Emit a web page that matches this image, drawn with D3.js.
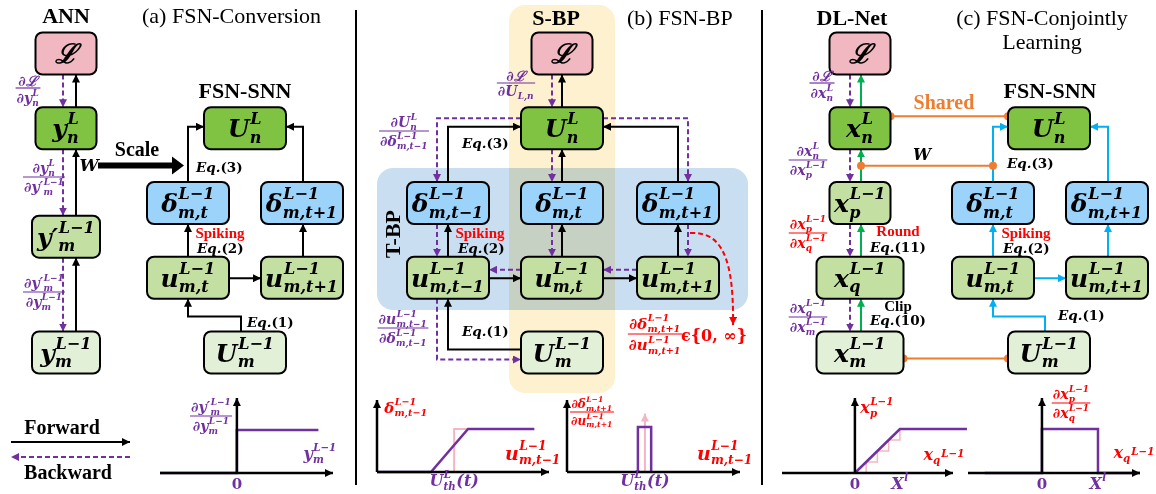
<!DOCTYPE html>
<html>
<head>
<meta charset="utf-8">
<script src="https://cdn.jsdelivr.net/npm/d3@7"></script>
<style>
body { margin: 0; background: #fff; }
svg text { font-family: "DejaVu Serif", serif; }
.math text { font-weight: bold; font-style: italic; }
.math text.up { font-style: normal; }
.head { font-family: "Liberation Serif", serif !important; font-weight: bold; font-size: 22px; }
.cap { font-family: "Liberation Serif", serif !important; font-size: 22px; }
.note { font-family: "Liberation Serif", serif !important; font-weight: bold; font-size: 15px; }
.eq { font-weight: bold; font-size: 13.5px; }
</style>
</head>
<body>
<svg id="fig" width="1156" height="494"></svg>
<script>
const svg = d3.select('#fig');

// ---- data ----
// nodes: column key, row index, colour kind, width class, label (base, sup, sub)
const nodesA = [
  {id: 'aL',   col: 'ann', row: 0,    kind: 'loss',  size: 's', tex: [['ℒ']]},
  {id: 'ayn',  col: 'ann', row: 1,    kind: 'dark',  size: 's', tex: [['y', 'L', 'n']]},
  {id: 'ayp',  col: 'ann', row: 2.45, kind: 'mid',   size: 'm', tex: [['y′', 'L−1', 'm']]},
  {id: 'aym',  col: 'ann', row: 4,    kind: 'light', size: 'm', tex: [['y', 'L−1', 'm']]},
  {id: 'aUn',  col: 'sm',  row: 1,    kind: 'dark',  size: 'l', tex: [['U', 'L', 'n']]},
  {id: 'adt',  col: 's0',  row: 2,    kind: 'blue',  size: 'l', tex: [['δ', 'L−1', 'm,t']]},
  {id: 'adt1', col: 's1',  row: 2,    kind: 'blue',  size: 'l', tex: [['δ', 'L−1', 'm,t+1']]},
  {id: 'aut',  col: 's0',  row: 3,    kind: 'mid',   size: 'l', tex: [['u', 'L−1', 'm,t']]},
  {id: 'aut1', col: 's1',  row: 3,    kind: 'mid',   size: 'l', tex: [['u', 'L−1', 'm,t+1']]},
  {id: 'aUm',  col: 'sm',  row: 4,    kind: 'light', size: 'l', tex: [['U', 'L−1', 'm']]}
];
const nodesB = [
  {id: 'bL',  col: 'b1', row: 0, kind: 'loss',  size: 's', tex: [['ℒ']]},
  {id: 'bUn', col: 'b1', row: 1, kind: 'dark',  size: 'l', tex: [['U', 'L', 'n']]},
  {id: 'bd0', col: 'b0', row: 2, kind: 'blue',  size: 'l', tex: [['δ', 'L−1', 'm,t−1']]},
  {id: 'bd1', col: 'b1', row: 2, kind: 'blue',  size: 'l', tex: [['δ', 'L−1', 'm,t']]},
  {id: 'bd2', col: 'b2', row: 2, kind: 'blue',  size: 'l', tex: [['δ', 'L−1', 'm,t+1']]},
  {id: 'bu0', col: 'b0', row: 3, kind: 'mid',   size: 'l', tex: [['u', 'L−1', 'm,t−1']]},
  {id: 'bu1', col: 'b1', row: 3, kind: 'mid',   size: 'l', tex: [['u', 'L−1', 'm,t']]},
  {id: 'bu2', col: 'b2', row: 3, kind: 'mid',   size: 'l', tex: [['u', 'L−1', 'm,t+1']]},
  {id: 'bUm', col: 'b1', row: 4, kind: 'light', size: 'l', tex: [['U', 'L−1', 'm']]}
];
const nodesC = [
  {id: 'cL',  col: 'dl', row: 0, kind: 'loss',  size: 's',  tex: [['ℒ']]},
  {id: 'cxn', col: 'dl', row: 1, kind: 'dark',  size: 's',  tex: [['x', 'L', 'n']]},
  {id: 'cxp', col: 'dl', row: 2, kind: 'mid',   size: 's',  tex: [['x', 'L−1', 'p']]},
  {id: 'cxq', col: 'dl', row: 3, kind: 'mid',   size: 'xl', tex: [['x', 'L−1', 'q']]},
  {id: 'cxm', col: 'dl', row: 4, kind: 'light', size: 'xl', tex: [['x', 'L−1', 'm']]},
  {id: 'cUn', col: 'cm', row: 1, kind: 'dark',  size: 'l',  tex: [['U', 'L', 'n']]},
  {id: 'cd0', col: 'c0', row: 2, kind: 'blue',  size: 'l',  tex: [['δ', 'L−1', 'm,t']]},
  {id: 'cd1', col: 'c1', row: 2, kind: 'blue',  size: 'l',  tex: [['δ', 'L−1', 'm,t+1']]},
  {id: 'cu0', col: 'c0', row: 3, kind: 'mid',   size: 'l',  tex: [['u', 'L−1', 'm,t']]},
  {id: 'cu1', col: 'c1', row: 3, kind: 'mid',   size: 'l',  tex: [['u', 'L−1', 'm,t+1']]},
  {id: 'cUm', col: 'cm', row: 4, kind: 'light', size: 'l',  tex: [['U', 'L−1', 'm']]}
];

// edges: kind = fwd (black), bwd (purple dashed), green, blue
const edgesA = [
  {from: 'ayn', to: 'aL', kind: 'fwd', route: 'v'},  {from: 'aL', to: 'ayn', kind: 'bwd', route: 'v'},
  {from: 'ayp', to: 'ayn', kind: 'fwd', route: 'v'}, {from: 'ayn', to: 'ayp', kind: 'bwd', route: 'v'},
  {from: 'aym', to: 'ayp', kind: 'fwd', route: 'v'}, {from: 'ayp', to: 'aym', kind: 'bwd', route: 'v'},
  {from: 'adt', to: 'aUn', kind: 'fwd', route: 'upSide'},
  {from: 'adt1', to: 'aUn', kind: 'fwd', route: 'upSide'},
  {from: 'aut', to: 'adt', kind: 'fwd', route: 'v'},
  {from: 'aut1', to: 'adt1', kind: 'fwd', route: 'v'},
  {from: 'aut', to: 'aut1', kind: 'fwd', route: 'h'},
  {from: 'aUm', to: 'aut', kind: 'fwd', route: 'upOver'}
];
const edgesB = [
  {from: 'bUn', to: 'bL', kind: 'fwd', route: 'v'},  {from: 'bL', to: 'bUn', kind: 'bwd', route: 'v'},
  {from: 'bd1', to: 'bUn', kind: 'fwd', route: 'v'}, {from: 'bUn', to: 'bd1', kind: 'bwd', route: 'v'},
  {from: 'bd0', to: 'bUn', kind: 'fwd', route: 'upSide'}, {from: 'bUn', to: 'bd0', kind: 'bwd', route: 'sideDown'},
  {from: 'bd2', to: 'bUn', kind: 'fwd', route: 'upSide'}, {from: 'bUn', to: 'bd2', kind: 'bwd', route: 'sideDown'},
  {from: 'bu0', to: 'bd0', kind: 'fwd', route: 'v'}, {from: 'bd0', to: 'bu0', kind: 'bwd', route: 'v'},
  {from: 'bu1', to: 'bd1', kind: 'fwd', route: 'v'}, {from: 'bd1', to: 'bu1', kind: 'bwd', route: 'v'},
  {from: 'bu2', to: 'bd2', kind: 'fwd', route: 'v'}, {from: 'bd2', to: 'bu2', kind: 'bwd', route: 'v'},
  {from: 'bu0', to: 'bu1', kind: 'fwd', route: 'h'}, {from: 'bu1', to: 'bu0', kind: 'bwd', route: 'h'},
  {from: 'bu1', to: 'bu2', kind: 'fwd', route: 'h'}, {from: 'bu2', to: 'bu1', kind: 'bwd', route: 'h'},
  {from: 'bUm', to: 'bu0', kind: 'fwd', route: 'sideUp'}, {from: 'bu0', to: 'bUm', kind: 'bwd', route: 'downSide'}
];
const edgesC = [
  {from: 'cxn', to: 'cL', kind: 'green', route: 'v'},  {from: 'cL', to: 'cxn', kind: 'bwd', route: 'v'},
  {from: 'cxp', to: 'cxn', kind: 'green', route: 'v'}, {from: 'cxn', to: 'cxp', kind: 'bwd', route: 'v'},
  {from: 'cxq', to: 'cxp', kind: 'green', route: 'v'}, {from: 'cxp', to: 'cxq', kind: 'bwd', route: 'v'},
  {from: 'cxm', to: 'cxq', kind: 'green', route: 'v'}, {from: 'cxq', to: 'cxm', kind: 'bwd', route: 'v'},
  {from: 'cd0', to: 'cUn', kind: 'blue', route: 'upSide'},
  {from: 'cd1', to: 'cUn', kind: 'blue', route: 'upSide'},
  {from: 'cu0', to: 'cd0', kind: 'blue', route: 'v'},
  {from: 'cu1', to: 'cd1', kind: 'blue', route: 'v'},
  {from: 'cu0', to: 'cu1', kind: 'blue', route: 'h'},
  {from: 'cUm', to: 'cu0', kind: 'blue', route: 'upOver'}
];

// headings and notes
const headings = [
  {t: 'ANN', x: 66, y: 23, cls: 'head', anchor: 'middle'},
  {t: '(a) FSN-Conversion', x: 142, y: 23, cls: 'cap', anchor: 'start'},
  {t: 'FSN-SNN', x: 245, y: 98, cls: 'head', anchor: 'middle'},
  {t: 'S-BP', x: 556, y: 25, cls: 'head', anchor: 'middle'},
  {t: '(b) FSN-BP', x: 627, y: 25, cls: 'cap', anchor: 'start'},
  {t: 'DL-Net', x: 852, y: 25, cls: 'head', anchor: 'middle'},
  {t: '(c) FSN-Conjointly', x: 1042, y: 25, cls: 'cap', anchor: 'middle'},
  {t: 'Learning', x: 1042, y: 49, cls: 'cap', anchor: 'middle'},
  {t: 'FSN-SNN', x: 1050, y: 98, cls: 'head', anchor: 'middle'}
];
const notes = [
  {t: 'Scale', x: 137, y: 156, size: 20, color: '#000'},
  {t: 'Spiking', x: 220, y: 238, size: 15, color: '#ff0000'},
  {t: 'Forward', x: 62, y: 434, size: 20, color: '#000'},
  {t: 'Backward', x: 68, y: 479, size: 20, color: '#000'},
  {t: 'Spiking', x: 480, y: 238, size: 15, color: '#ff0000'},
  {t: 'Shared', x: 944, y: 109, size: 20, color: '#ed7d31'},
  {t: 'Round', x: 898, y: 236, size: 15, color: '#ff0000'},
  {t: 'Clip', x: 898, y: 311, size: 15, color: '#000'},
  {t: 'Spiking', x: 1026, y: 238, size: 15, color: '#ff0000'}
];
const eqs = [
  {n: '3', x: 196, y: 172}, {n: '2', x: 197, y: 253}, {n: '1', x: 247, y: 327},
  {n: '3', x: 462, y: 148}, {n: '2', x: 458, y: 253}, {n: '1', x: 462, y: 336},
  {n: '3', x: 1007, y: 168}, {n: '11', x: 870, y: 252}, {n: '10', x: 870, y: 325},
  {n: '2', x: 1003, y: 253}, {n: '1', x: 1058, y: 320}
];
const fracs = [
  {num: [['∂ℒ']], den: [['∂y', 'L', 'n']], c: 'bwd', x: 28, y: 88},
  {num: [['∂y', 'L', 'n']], den: [['∂y′', 'L−1', 'm']], c: 'bwd', x: 44, y: 177},
  {num: [['∂y′', 'L−1', 'm']], den: [['∂y', 'L−1', 'm']], c: 'bwd', x: 44, y: 292},
  {num: [['∂y′', 'L−1', 'm']], den: [['∂y', 'L−1', 'm']], c: 'bwd', x: 211, y: 416},
  {num: [['∂ℒ']], den: [['∂U', null, 'L,n']], c: 'bwd', x: 516, y: 83},
  {num: [['∂U', 'L', 'n']], den: [['∂δ', 'L−1', 'm,t−1']], c: 'bwd', x: 404, y: 131},
  {num: [['∂u', 'L−1', 'm,t−1']], den: [['∂δ', 'L−1', 'm,t−1']], c: 'bwd', x: 403, y: 328},
  {num: [['∂δ', 'L−1', 'm,t+1']], den: [['∂u', 'L−1', 'm,t+1']], c: 'red', x: 655, y: 334, size: 15},
  {num: [['∂δ', 'L−1', 'm,t+1']], den: [['∂u', 'L−1', 'm,t+1']], c: 'red', x: 592, y: 412, size: 12},
  {num: [['∂ℒ']], den: [['∂x', 'L', 'n']], c: 'bwd', x: 822, y: 83},
  {num: [['∂x', 'L', 'n']], den: [['∂x', 'L−1', 'p']], c: 'bwd', x: 808, y: 160},
  {num: [['∂x', 'L−1', 'p']], den: [['∂x', 'L−1', 'q']], c: 'red', x: 808, y: 233},
  {num: [['∂x', 'L−1', 'q']], den: [['∂x', 'L−1', 'm']], c: 'bwd', x: 808, y: 317},
  {num: [['∂x', 'L−1', 'p']], den: [['∂x', 'L−1', 'q']], c: 'red', x: 1071, y: 403}
];

// curves for the small plots (x, y) in plot units
const reluGrad = [[-1, 0], [0, 0], [0, 1], [1.06, 1]];
const spikeFn = [[0, 0], [0.7, 0], [1.18, 1], [2.04, 1]];
const spikeStep = [[0.7, 0], [1, 0], [1, 1], [1.18, 1]];
const spikeGrad = [[0.91, 0], [0.91, 1], [1.08, 1], [1.08, 0]];
const spikeDirac = [[1, 0], [1, 1.3]];
const quantFn = [[0, 0], [1, 1], [2.49, 1]];
const quantStep = [[0, 0], [0.25, 0], [0.25, 0.25], [0.5, 0.25], [0.5, 0.5], [0.75, 0.5], [0.75, 0.75], [1, 0.75], [1, 1]];
const quantGrad = [[-1.02, 0], [0, 0], [0, 1], [1, 1], [1, 0], [1.75, 0]];

// ---- layout ----
const COLORS = {fwd: '#000', bwd: '#7030a0', green: '#00b050', blue: '#00b0f0', red: '#ff0000', pink: '#f4b6c2', orange: '#ed7d31'};
const FILLS = {loss: '#f2b8c1', dark: '#80c342', mid: '#c3dfa2', light: '#e2f0d8', blue: '#9bd3fb'};
const WIDTHS = {s: 61, m: 68, l: 82, xl: 87};
const BOX_H = 42;
const colX = d3.scaleOrdinal()
  .domain(['ann', 's0', 's1', 'sm', 'b0', 'b1', 'b2', 'dl', 'c0', 'c1', 'cm'])
  .range([66, 188, 302, 245, 448, 562, 678, 860, 993, 1107, 1049]);
const rowY = d3.scaleLinear().domain([0, 4]).range([53.5, 352.5]);
// lane offsets [solid, dashed] for vertical connectors per column
const LANE = {ann: [10, -3], s0: [0, 0], s1: [1, 0], sm: [0, 0], b0: [0, -11], b1: [0, -10], b2: [0, 10],
  dl: [1, -10], c0: [0, 0], c1: [1, 0], cm: [0, 0]};

const nodes = [...nodesA, ...nodesB, ...nodesC].map(d => {
  const w = WIDTHS[d.size];
  const x = colX(d.col), y = rowY(d.row);
  return {...d, x, y, w, left: x - w / 2, right: x + w / 2, top: y - BOX_H / 2, bottom: y + BOX_H / 2};
});
const byId = new Map(nodes.map(d => [d.id, d]));

// ---- math text helper ----
const upright = s => /^[0-9()]+$/.test(s);
function mathGroup(parent, tokens, size, color) {
  const g = parent.append('g').attr('class', 'math').attr('fill', color);
  let x = 0;
  tokens.forEach(([base, sup, sub, supDy]) => {
    if (base) {
      const t = g.append('text').attr('x', x).attr('y', 0).classed('up', upright(base))
        .style('font-size', size + 'px').text(base);
      x += t.node().getComputedTextLength();
    }
    const s = size * 0.64;
    let w = 0;
    if (sup) {
      const t = g.append('text').attr('x', x + size * 0.03).attr('y', supDy != null ? supDy : -size * 0.52)
        .style('font-size', s + 'px').text(sup);
      w = Math.max(w, t.node().getComputedTextLength());
    }
    if (sub) {
      const t = g.append('text').attr('x', x + size * 0.01).attr('y', size * 0.22)
        .style('font-size', s + 'px').text(sub);
      w = Math.max(w, t.node().getComputedTextLength());
    }
    if (w) x += w + size * 0.05;
  });
  g.property('__w', x);
  return g;
}
function placeMath(parent, tokens, size, color, cx, baseline) {
  const g = mathGroup(parent, tokens, size, color);
  g.attr('transform', `translate(${cx - g.property('__w') / 2},${baseline})`);
  return g;
}
function fraction(parent, f) {
  const size = f.size || 14;
  const color = COLORS[f.c];
  const g = parent.append('g');
  const n = mathGroup(g, f.num, size, color);
  const d = mathGroup(g, f.den, size, color);
  const nb = n.node().getBBox(), db = d.node().getBBox();
  n.attr('transform', `translate(${f.x - n.property('__w') / 2},${f.y + 1 - (nb.y + nb.height)})`);
  d.attr('transform', `translate(${f.x - d.property('__w') / 2},${f.y - 0.5 - db.y})`);
  const w = Math.max(n.property('__w'), d.property('__w')) + 2;
  g.append('line').attr('x1', f.x - w / 2).attr('x2', f.x + w / 2).attr('y1', f.y).attr('y2', f.y)
    .attr('stroke', color).attr('stroke-width', 1.2);
}

// ---- markers ----
const defs = svg.append('defs');
Object.entries(COLORS).forEach(([k, c]) => {
  defs.append('marker').attr('id', 'm-' + k).attr('viewBox', '0 0 10 10')
    .attr('refX', 10).attr('refY', 5).attr('markerWidth', 8).attr('markerHeight', 8)
    .attr('markerUnits', 'userSpaceOnUse').attr('orient', 'auto')
    .append('path').attr('d', 'M0,0L10,5L0,10z').attr('fill', c);
});

// ---- backgrounds ----
svg.append('rect').attr('x', 509).attr('y', 5).attr('width', 106).attr('height', 388).attr('rx', 16)
  .attr('fill', '#fdf1cf');
svg.append('rect').attr('x', 377).attr('y', 168).attr('width', 371).attr('height', 142).attr('rx', 16)
  .attr('fill', '#c9def0').style('mix-blend-mode', 'multiply');
svg.append('text').attr('class', 'head').attr('text-anchor', 'middle')
  .attr('transform', 'translate(400,234) rotate(-90)').text('T-BP');

// panel separators
[356, 762].forEach(x => svg.append('line').attr('x1', x).attr('x2', x).attr('y1', 10).attr('y2', 485)
  .attr('stroke', '#000').attr('stroke-width', 2));

// ---- edges ----
function edgePoints(e) {
  const a = byId.get(e.from), b = byId.get(e.to);
  const li = e.kind === 'bwd' ? 1 : 0;
  switch (e.route) {
    case 'v': {
      const x = a.x + LANE[a.col][li];
      return a.row > b.row ? [[x, a.top], [x, b.bottom]] : [[x, a.bottom], [x, b.top]];
    }
    case 'upSide': {
      const x = a.x + LANE[a.col][li], y = b.y - 1.5;
      return [[x, a.top], [x, y], [a.x < b.x ? b.left : b.right, y]];
    }
    case 'sideDown': {
      const x = b.x + LANE[b.col][li], y = a.y - 10;
      return [[b.x < a.x ? a.left : a.right, y], [x, y], [x, b.top]];
    }
    case 'h': {
      const y = e.kind === 'bwd' ? a.y - 8 : a.y + 0.5;
      return a.x < b.x ? [[a.right, y], [b.left, y]] : [[a.left, y], [b.right, y]];
    }
    case 'sideUp': {
      const x = b.x + LANE[b.col][li], y = a.y - 3;
      return [[b.x < a.x ? a.left : a.right, y], [x, y], [x, b.bottom]];
    }
    case 'downSide': {
      const x = a.x + LANE[a.col][li], y = b.y + 7;
      return [[x, a.bottom], [x, y], [a.x < b.x ? b.left : b.right, y]];
    }
    case 'upOver': {
      const x0 = a.x - 4, y = a.top - 15, x1 = b.x + LANE[b.col][li];
      return [[x0, a.top], [x0, y], [x1, y], [x1, b.bottom]];
    }
  }
}
const line = d3.line();
const gEdges = svg.append('g').attr('fill', 'none');
gEdges.selectAll('path').data([...edgesA, ...edgesB, ...edgesC]).join('path')
  .attr('d', d => line(edgePoints(d)))
  .attr('stroke', d => COLORS[d.kind])
  .attr('stroke-width', 2)
  .attr('stroke-dasharray', d => d.kind === 'bwd' ? '5,3' : null)
  .attr('marker-end', d => `url(#m-${d.kind})`);

// red dashed feedback curve on delta_{m,t+1}
const d2 = byId.get('bd2');
gEdges.append('path')
  .attr('d', `M${d2.x + LANE.b2[1] + 2},${d2.bottom + 9} C${d2.x + 44},${d2.bottom + 7} ${d2.x + 56},${d2.bottom + 35} ${d2.x + 55},${d2.bottom + 101}`)
  .attr('stroke', COLORS.red).attr('stroke-width', 2).attr('stroke-dasharray', '5,3')
  .attr('marker-end', 'url(#m-red)');

// Scale arrow
svg.append('path').attr('d', 'M98,162.5H172V156.5L184,165.5L172,174.5V168.5H98Z').attr('fill', '#000');

// shared-weight links (orange)
const xn = byId.get('cxn'), un = byId.get('cUn'), xm = byId.get('cxm'), um = byId.get('cUm');
const orange = [
  [[xn.right, xn.y - 12], [un.left, xn.y - 12]],
  [[xn.x + LANE.dl[0], rowY(1.5)], [byId.get('cd0').x, rowY(1.5)]],
  [[xm.right, xm.y + 6], [um.left, xm.y + 6]]
];
const gO = svg.append('g');
orange.forEach(pts => {
  gO.append('path').attr('d', line(pts)).attr('stroke', COLORS.orange).attr('stroke-width', 2).attr('fill', 'none');
  pts.forEach(p => gO.append('circle').attr('cx', p[0]).attr('cy', p[1]).attr('r', 4).attr('fill', COLORS.orange));
});
placeMath(svg, [['W']], 16, '#000', 922, 160);
placeMath(svg, [['W']], 17, '#000', 89, 171);

// ---- nodes ----
const gN = svg.append('g');
const nodeG = gN.selectAll('g').data(nodes).join('g');
nodeG.append('rect')
  .attr('x', d => d.left).attr('y', d => d.top).attr('width', d => d.w).attr('height', BOX_H)
  .attr('rx', 7).attr('fill', d => FILLS[d.kind]).attr('stroke', '#000').attr('stroke-width', 2);
nodeG.each(function (d) {
  placeMath(d3.select(this), d.tex, d.kind === 'loss' ? 27 : 25, '#000', d.x, d.y + 9);
});

// ---- text ----
svg.selectAll('text.hd').data(headings).join('text')
  .attr('class', d => 'hd ' + d.cls).attr('x', d => d.x).attr('y', d => d.y)
  .attr('text-anchor', d => d.anchor).text(d => d.t);
svg.selectAll('text.nt').data(notes).join('text')
  .attr('class', 'nt note').attr('x', d => d.x).attr('y', d => d.y).attr('text-anchor', 'middle')
  .style('font-size', d => d.size + 'px').attr('fill', d => d.color).text(d => d.t);
const eqT = svg.selectAll('text.eq').data(eqs).join('text')
  .attr('class', 'eq').attr('x', d => d.x).attr('y', d => d.y);
eqT.append('tspan').style('font-style', 'italic').text('Eq.');
eqT.append('tspan').text(d => `(${d.n})`);
fracs.forEach(f => fraction(svg, f));
// epsilon set next to the red fraction
svg.append('text').attr('x', 681).attr('y', 341).attr('fill', COLORS.red).style('font-weight', 'bold')
  .style('font-size', '16px').text('ϵ{0, ∞}');

// legend arrows
svg.append('path').attr('d', line([[11, 442], [130, 442]])).attr('stroke', '#000').attr('stroke-width', 2)
  .attr('marker-end', 'url(#m-fwd)');
svg.append('path').attr('d', line([[130, 457], [11, 457]])).attr('stroke', COLORS.bwd).attr('stroke-width', 2)
  .attr('stroke-dasharray', '5,3').attr('marker-end', 'url(#m-bwd)');

// ---- small plots ----
function plot(cfg) {
  const x = d3.scaleLinear().domain(cfg.xd).range(cfg.xr);
  const y = d3.scaleLinear().domain([0, 1]).range(cfg.yr);
  const g = svg.append('g');
  const pl = d3.line().x(d => x(d[0])).y(d => y(d[1]));
  (cfg.curves || []).forEach(c => {
    g.append('path').attr('d', pl(c.data)).attr('fill', 'none').attr('stroke', COLORS[c.color])
      .attr('stroke-width', c.width || 2.5).attr('marker-end', c.arrow ? `url(#m-${c.color})` : null);
  });
  g.append('path').attr('d', line([[x(cfg.axisStart), y(0)], [x(cfg.xd[1]), y(0)]]))
    .attr('stroke', '#000').attr('stroke-width', 2.5).attr('marker-end', 'url(#m-fwd)');
  g.append('path').attr('d', line([[x(0), y(0)], [x(0), cfg.top]]))
    .attr('stroke', '#000').attr('stroke-width', 2.5).attr('marker-end', 'url(#m-fwd)');
  (cfg.ticks || []).forEach(t => placeMath(g, t.tex, t.size || 15, COLORS.bwd, x(t.v), t.base || 489));
  return g;
}
plot({xd: [-1, 1.25], xr: [160, 333], yr: [473, 430], top: 398, axisStart: -1,
  curves: [{data: reluGrad, color: 'bwd'}], ticks: [{v: 0, tex: [['0']]}]});
plot({xd: [0, 2.23], xr: [377, 549], yr: [472, 429], top: 400, axisStart: 0,
  curves: [{data: spikeStep, color: 'pink', width: 2}, {data: spikeFn, color: 'bwd'}],
  ticks: [{v: 1, tex: [['U', 'L', 'th'], ['(t)']], size: 16, base: 486}]});
plot({xd: [0, 2.22], xr: [567, 740], yr: [472, 427], top: 400, axisStart: 0,
  curves: [{data: spikeDirac, color: 'pink', width: 2, arrow: true}, {data: spikeGrad, color: 'bwd'}],
  ticks: [{v: 1, tex: [['U', 'L', 'th'], ['(t)']], size: 16, base: 486}]});
plot({xd: [-1.62, 2.18], xr: [782, 953], yr: [473, 429], top: 398, axisStart: -1.62,
  curves: [{data: quantStep, color: 'pink', width: 1.5}, {data: quantFn, color: 'bwd'}],
  ticks: [{v: 0, tex: [['0']]}, {v: 1, tex: [['X', 'l']], size: 16}]});
plot({xd: [-1.32, 1.75], xr: [968, 1140], yr: [473, 429], top: 398, axisStart: -1.32,
  curves: [{data: quantGrad, color: 'bwd'}],
  ticks: [{v: 0, tex: [['0']]}, {v: 1, tex: [['X', 'l']], size: 16}]});

// plot axis labels
placeMath(svg, [['y', 'L−1', 'm']], 16, COLORS.bwd, 320, 459);
placeMath(svg, [['δ', 'L−1', 'm,t−1']], 15, COLORS.red, 406, 413);
placeMath(svg, [['u', 'L−1', 'm,t−1']], 19, COLORS.red, 533, 460);
placeMath(svg, [['u', 'L−1', 'm,t−1']], 19, COLORS.red, 725, 460);
placeMath(svg, [['x', 'L−1', 'p']], 16, COLORS.red, 877, 413);
placeMath(svg, [['x', null, 'q'], [null, 'L−1', null, -3]], 16, COLORS.red, 944, 460);
placeMath(svg, [['x', null, 'q'], [null, 'L−1', null, -3]], 16, COLORS.red, 1134, 458);
</script>
</body>
</html>
